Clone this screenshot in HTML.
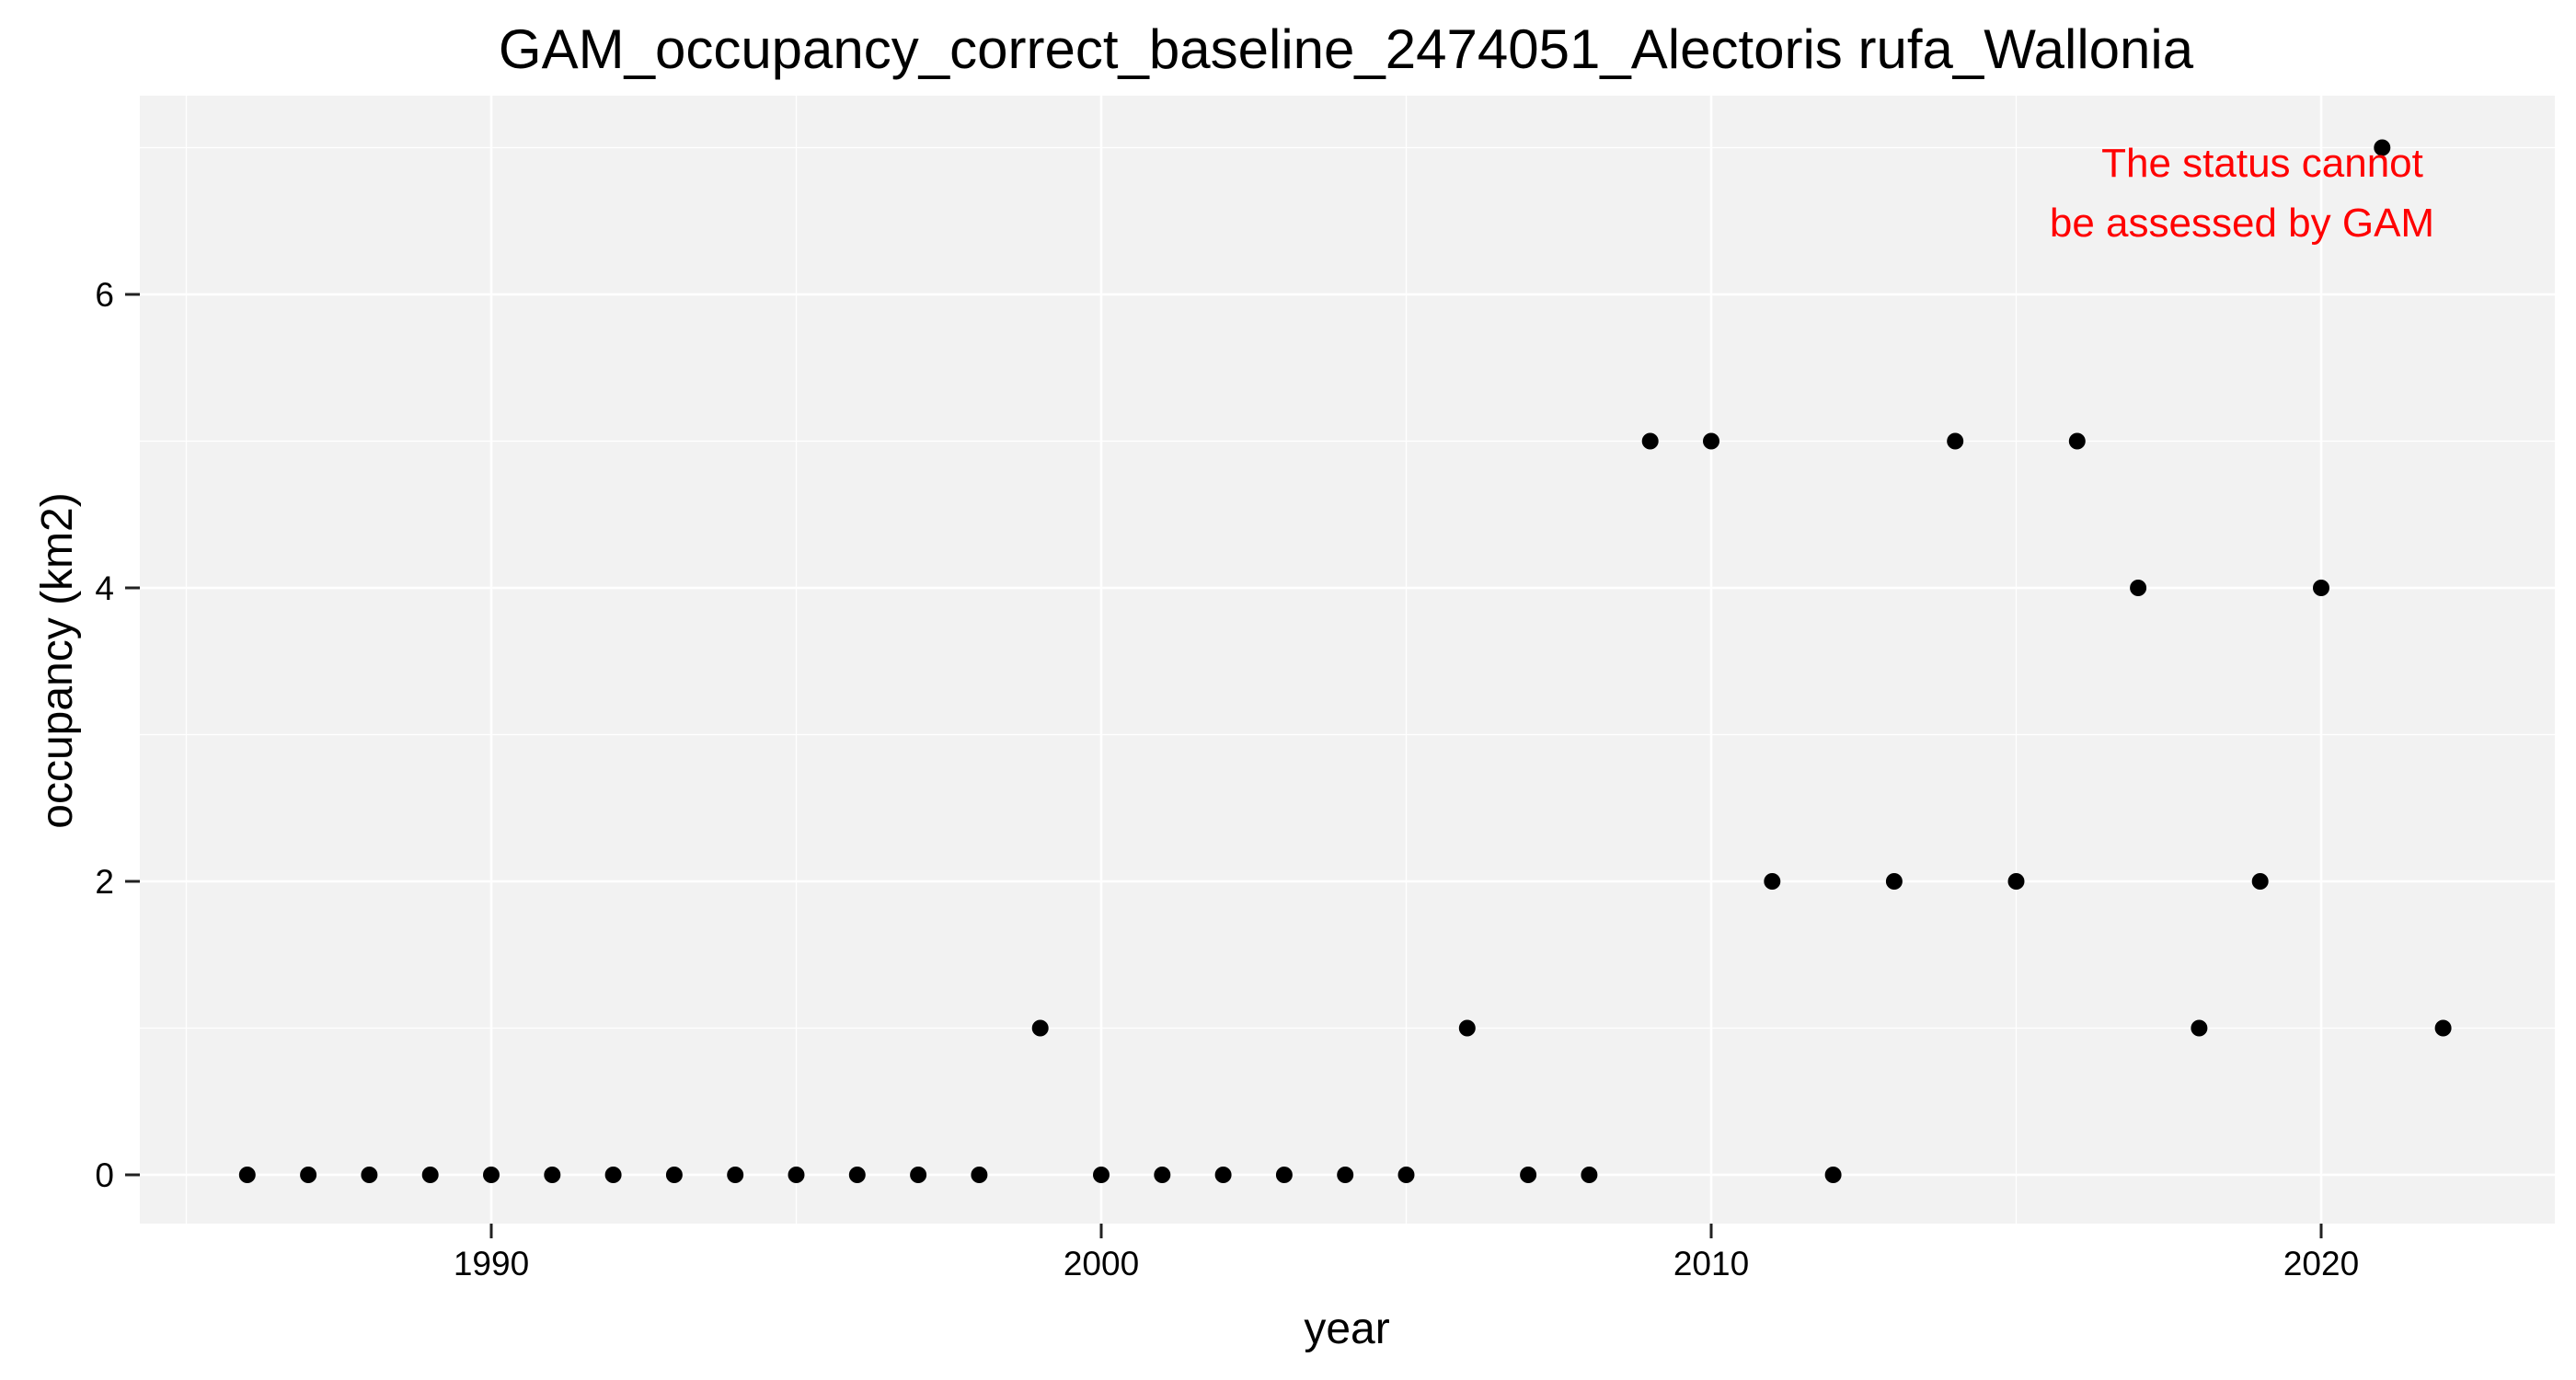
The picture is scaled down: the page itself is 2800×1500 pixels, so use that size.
<!DOCTYPE html>
<html><head><meta charset="utf-8"><style>
body{margin:0;background:#fff}
svg{display:block;font-family:"Liberation Sans",Arial,sans-serif}
</style></head><body>
<svg id="chart" width="2800" height="1500" viewBox="0 0 2800 1500">
<rect x="0" y="0" width="2800" height="1500" fill="#fff"/>
<text x="1463" y="74" font-size="60" text-anchor="middle" fill="#000">GAM_occupancy_correct_baseline_2474051_Alectoris rufa_Wallonia</text>
<rect x="152" y="104" width="2625" height="1226" fill="#f2f2f2"/>
<g id="grid"></g>
<g id="axes"></g>
<g id="points"></g>
<text x="2459" y="192" font-size="44" fill="#ff0000" text-anchor="middle">The status cannot</text>
<text x="2437" y="257" font-size="44" fill="#ff0000" text-anchor="middle">be assessed by GAM</text>
<text x="1464" y="1460" font-size="48" text-anchor="middle" fill="#000">year</text>
<text x="0" y="0" font-size="48" text-anchor="middle" fill="#000" transform="translate(78,718) rotate(-90)">occupancy (km2)</text>
</svg>
<script>
const years=[1986,1987,1988,1989,1990,1991,1992,1993,1994,1995,1996,1997,1998,1999,2000,2001,2002,2003,2004,2005,2006,2007,2008,2009,2010,2011,2012,2013,2014,2015,2016,2017,2018,2019,2020,2021,2022];
const occupancy=[0,0,0,0,0,0,0,0,0,0,0,0,0,1,0,0,0,0,0,0,1,0,0,5,5,2,0,2,5,2,5,4,1,2,4,7,1];
const xTicks=[1990,2000,2010,2020];
const xMinor=[1985,1995,2005,2015];
const yTicks=[0,2,4,6];
const yMinor=[1,3,5,7];
const NS="http://www.w3.org/2000/svg";
const px0=152,px1=2777,py0=104,py1=1330;
function xs(v){return 534+(v-1990)*(2523-534)/30;}
function ys(v){return 1277-v*(1277-320)/6;}
function mk(tag,attrs,parent){const e=document.createElementNS(NS,tag);for(const k in attrs)e.setAttribute(k,attrs[k]);parent.appendChild(e);return e;}
const grid=document.getElementById('grid'),axes=document.getElementById('axes'),pts=document.getElementById('points');
yMinor.forEach(v=>{const l=mk('line',{x1:px0,x2:px1,y1:ys(v),y2:ys(v),stroke:'#fff','stroke-width':1.3},grid);

});
xMinor.forEach(v=>{const l=mk('line',{x1:xs(v),x2:xs(v),y1:py0,y2:py1,stroke:'#fff','stroke-width':1.3},grid);

});
yTicks.forEach(v=>{const l=mk('line',{x1:px0,x2:px1,y1:ys(v),y2:ys(v),stroke:'#fff','stroke-width':2.6},grid);


const t=mk('line',{x1:136,x2:152,y1:ys(v),y2:ys(v),stroke:'#222','stroke-width':3},axes);


const tx=mk('text',{x:124,y:ys(v)+13,'font-size':37,'text-anchor':'end',fill:'#000'},axes);tx.textContent=v;

});
xTicks.forEach(v=>{const l=mk('line',{x1:xs(v),x2:xs(v),y1:py0,y2:py1,stroke:'#fff','stroke-width':2.6},grid);


const t=mk('line',{x1:xs(v),x2:xs(v),y1:1330,y2:1346,stroke:'#222','stroke-width':3},axes);


const tx=mk('text',{x:xs(v),y:1386,'font-size':37,'text-anchor':'middle',fill:'#000'},axes);tx.textContent=v;

});
years.forEach((y,i)=>{const c=mk('circle',{cx:xs(y),cy:ys(occupancy[i]),r:9,fill:'#000'},pts);

});
</script>
</body></html>
